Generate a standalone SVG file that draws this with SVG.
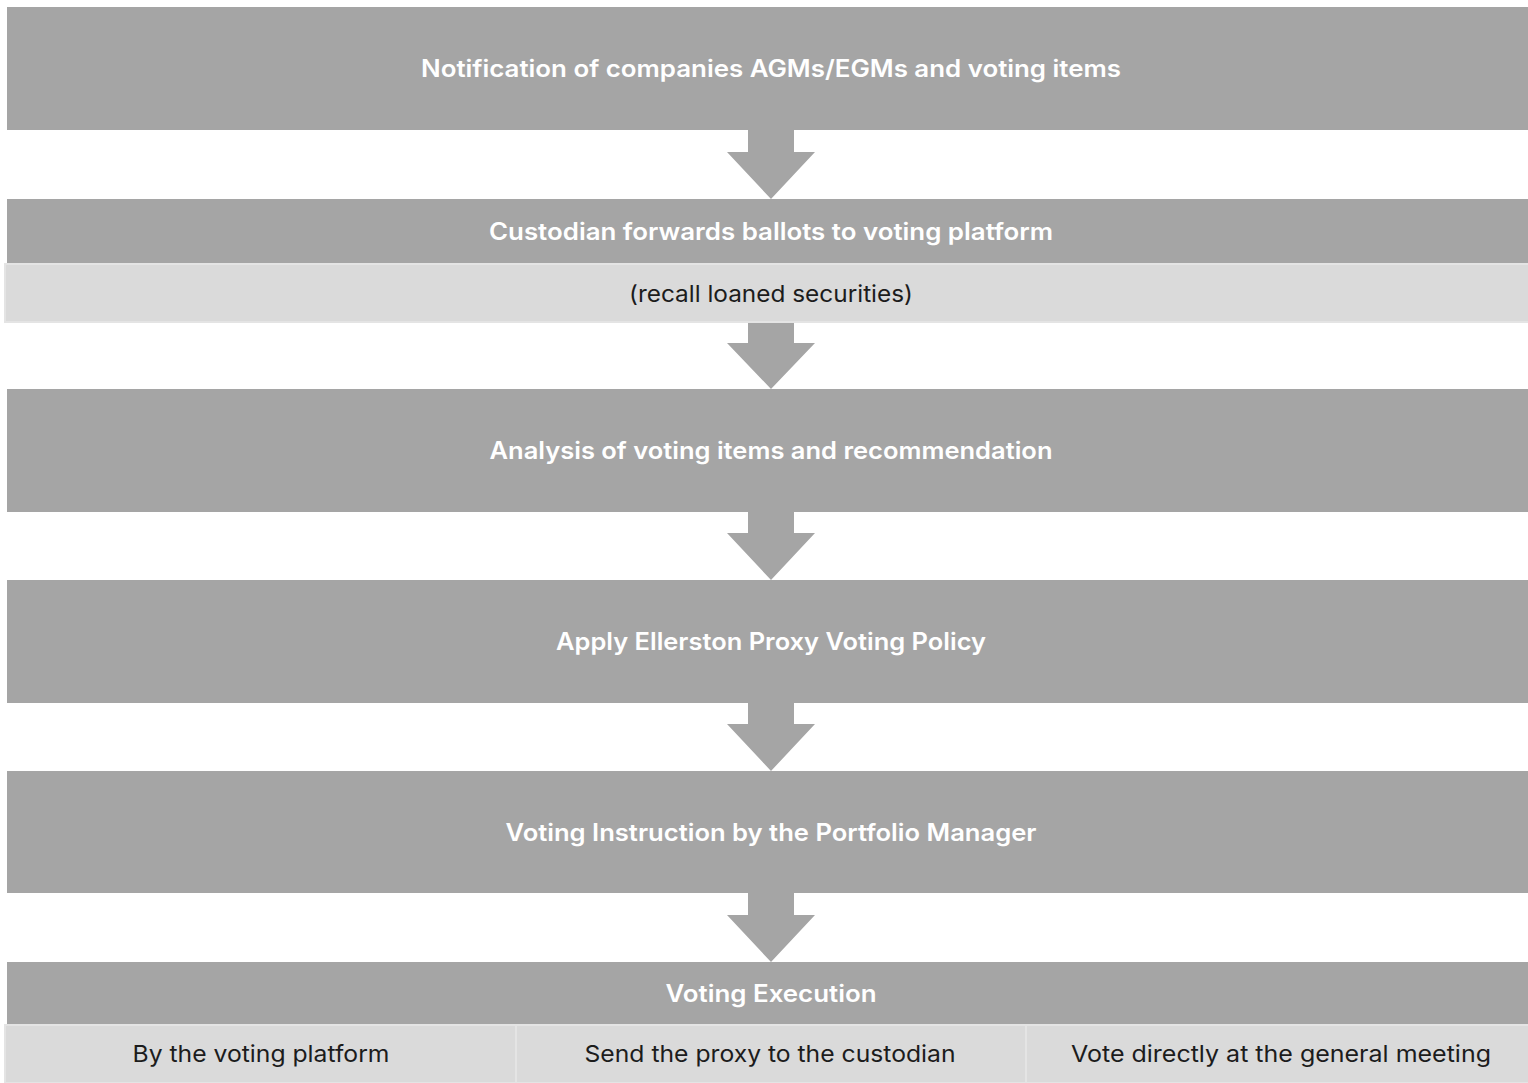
<svg xmlns="http://www.w3.org/2000/svg" width="1528" height="1083" viewBox="0 0 1528 1083">
  <style>
    .step { fill: #a5a5a5; }
    .sub { fill: #dadada; stroke: #e4e4e4; stroke-width: 2; }
    .arrow { fill: #a5a5a5; }
    .title { font-family: Inter, "Open Sans", "Liberation Sans", sans-serif; font-weight: 600; font-size: 24px; fill: #ffffff; text-anchor: middle; }
    .note { font-family: Inter, "Open Sans", "Liberation Sans", sans-serif; font-weight: 400; font-size: 23px; fill: #1c1c1c; text-anchor: middle; }
  </style>
  <rect width="1528" height="1083" fill="#ffffff"/>

  <!-- connectors: block arrows between steps -->
  <g id="connectors">
    <polygon class="arrow" points="748,130 794,130 794,152 815,152 771,199 727,152 748,152"/>
    <polygon class="arrow" points="748,323 794,323 794,343 815,343 771,389 727,343 748,343"/>
    <polygon class="arrow" points="748,512 794,512 794,533 815,533 771,580 727,533 748,533"/>
    <polygon class="arrow" points="748,703 794,703 794,724 815,724 771,771 727,724 748,724"/>
    <polygon class="arrow" points="748,893 794,893 794,915 815,915 771,962 727,915 748,915"/>
  </g>

  <g id="step-notification">
    <rect class="step" x="7" y="7" width="1521" height="123"/>
    <text class="title" x="771" y="77" textLength="700" lengthAdjust="spacingAndGlyphs">Notification of companies AGMs/EGMs and voting items</text>
  </g>

  <g id="step-custodian">
    <rect class="step" x="7" y="199" width="1521" height="64"/>
    <text class="title" x="771" y="240" textLength="564" lengthAdjust="spacingAndGlyphs">Custodian forwards ballots to voting platform</text>
  </g>

  <g id="step-recall">
    <rect class="sub" x="5" y="264" width="1524" height="58"/>
    <text class="note" x="771" y="302" textLength="284" lengthAdjust="spacingAndGlyphs">(recall loaned securities)</text>
  </g>

  <g id="step-analysis">
    <rect class="step" x="7" y="389" width="1521" height="123"/>
    <text class="title" x="771" y="459" textLength="563" lengthAdjust="spacingAndGlyphs">Analysis of voting items and recommendation</text>
  </g>

  <g id="step-policy">
    <rect class="step" x="7" y="580" width="1521" height="123"/>
    <text class="title" x="771" y="650" textLength="430" lengthAdjust="spacingAndGlyphs">Apply Ellerston Proxy Voting Policy</text>
  </g>

  <g id="step-instruction">
    <rect class="step" x="7" y="771" width="1521" height="122"/>
    <text class="title" x="771" y="841" textLength="531" lengthAdjust="spacingAndGlyphs">Voting Instruction by the Portfolio Manager</text>
  </g>

  <g id="step-execution">
    <rect class="step" x="7" y="962" width="1521" height="62"/>
    <text class="title" x="771" y="1002" textLength="211" lengthAdjust="spacingAndGlyphs">Voting Execution</text>
  </g>

  <g id="option-platform">
    <rect class="sub" x="5" y="1025" width="511" height="58"/>
    <text class="note" x="261" y="1062" textLength="257" lengthAdjust="spacingAndGlyphs">By the voting platform</text>
  </g>

  <g id="option-custodian">
    <rect class="sub" x="516" y="1025" width="510" height="58"/>
    <text class="note" x="770" y="1062" textLength="371" lengthAdjust="spacingAndGlyphs">Send the proxy to the custodian</text>
  </g>

  <g id="option-meeting">
    <rect class="sub" x="1026" y="1025" width="503" height="58"/>
    <text class="note" x="1281" y="1062" textLength="420" lengthAdjust="spacingAndGlyphs">Vote directly at the general meeting</text>
  </g>
</svg>
